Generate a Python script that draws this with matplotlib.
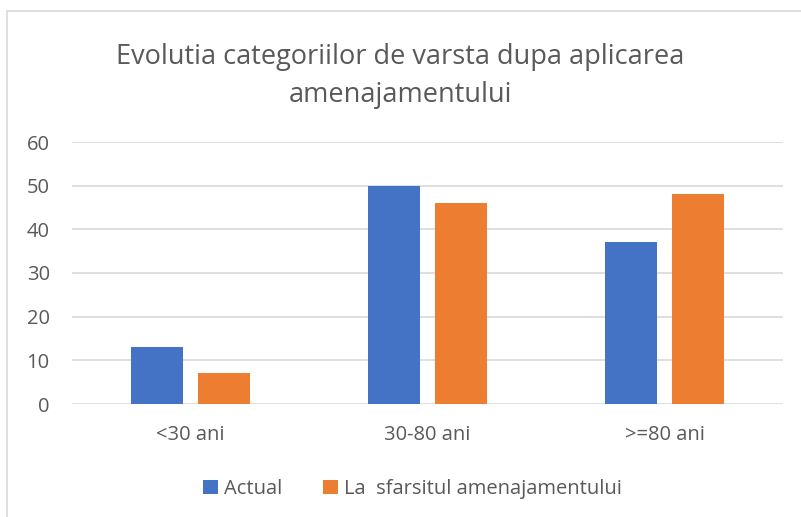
import matplotlib.pyplot as plt
import numpy as np
from matplotlib.patches import Rectangle

categories = ["<30 ani", "30-80 ani", ">=80 ani"]
actual = [13, 50, 37]
final = [7, 46, 48]
series_names = ["Actual", "La  sfarsitul amenajamentului"]

plt.rcParams['font.family'] = ['Open Sans', 'DejaVu Sans']
grey = '#595959'

fig = plt.figure(figsize=(8.01, 5.17), dpi=100)
ax = fig.add_axes([72/801, 1 - 404/517, (783 - 72)/801, (404 - 142)/517])

x = np.arange(len(categories))
w = 0.22
ax.bar(x - 0.14, actual, w, color='#4472C4', label=series_names[0], zorder=3)
ax.bar(x + 0.14, final, w, color='#ED7D31', label=series_names[1], zorder=3)

ax.set_xlim(-0.5, 2.5)
ax.set_ylim(0, 60)
ax.set_yticks(range(0, 61, 10))
ax.set_xticks(x)
ax.set_xticklabels(categories)
ax.grid(axis='y', color='#d9d9d9', linewidth=1.2, zorder=0)
for s in ax.spines.values():
    s.set_visible(False)
ax.tick_params(length=0, colors=grey, labelsize=14.5)
ax.tick_params(axis='y', pad=16)
ax.tick_params(axis='x', pad=15)

fig.text(0.5, 1 - 76/517, "Evolutia categoriilor de varsta dupa aplicarea\namenajamentului",
         ha='center', va='center', fontsize=19.5, color=grey, linespacing=1.45)

fig.legend(loc='center', bbox_to_anchor=(0.515, 1 - 489/517), ncol=2, frameon=False,
           fontsize=14.5, labelcolor=grey, handlelength=0.75, handleheight=0.75,
           handletextpad=0.3, columnspacing=2.0)

# chart border (cropped on right and bottom)
fig.patches.append(Rectangle((7/801, -0.1), 1.2, 1 - 11/517 + 0.1, transform=fig.transFigure,
                             fill=False, edgecolor='#d9d9d9', linewidth=1.2))

fig.savefig('out.png', dpi=100)
